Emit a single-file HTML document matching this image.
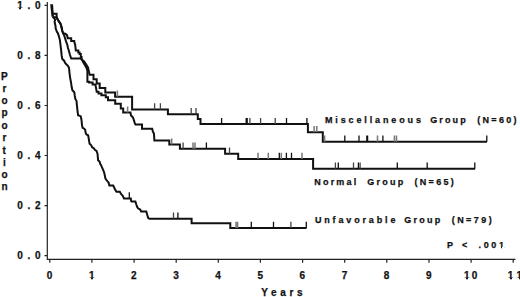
<!DOCTYPE html>
<html><head><meta charset="utf-8"><style>
html,body{margin:0;padding:0;background:#fff;}
body{width:520px;height:297px;position:relative;overflow:hidden;}
.o{position:relative;}
.o::before,.o::after{content:"";position:absolute;background:#fff;bottom:0.13em;height:0.21em;}
.o::before{left:0.02em;width:0.2em;}
.o::after{left:0.385em;width:0.2em;}
.t{position:absolute;font-family:"Liberation Sans",sans-serif;font-weight:bold;color:#111;white-space:pre;line-height:1;-webkit-text-stroke:0.25px #111;}
</style></head><body>
<svg width="520" height="297" viewBox="0 0 520 297" style="position:absolute;left:0;top:0">
<g stroke="#222" stroke-width="1.2" fill="none">
<path d="M47.3 2V259.4H515.5"/>
<path d="M44.5 5.3H47.3M44.5 55.4H47.3M44.5 105.5H47.3M44.5 155.5H47.3M44.5 205.6H47.3M44.5 255.7H47.3"/>
<path d="M49.8 259.4V262.8M91.9 259.4V262.8M134.1 259.4V262.8M176.2 259.4V262.8M218.3 259.4V262.8M260.4 259.4V262.8M302.6 259.4V262.8M344.7 259.4V262.8M386.8 259.4V262.8M429.0 259.4V262.8M471.1 259.4V262.8M513.2 259.4V262.8"/>
</g>
<g stroke="#111" stroke-width="2" fill="none" stroke-linejoin="miter">
<path d="M50.2 4.2H53L54 16.8H51.5Z" fill="#111" stroke="none"/>
<path d="M52.6 16.6L54.1 18.2L55.1 19.7L54.6 21.7L55.0 23.7L55.6 26.5L55.6 28.0L56.8 31.6L58.0 33.5L59.3 37.7L59.9 40.1L60.5 45.0L61.1 49.8L61.7 55.9L62.3 58.9L64.1 60.7L65.3 63.2L66.8 64.7L67.9 65.8L69.0 67.9L69.5 72.8L70.1 77.6L70.6 80.3L71.2 83.6L71.7 87.3L72.4 90.2L74.3 92.2L74.8 95.9L75.4 99.2L76.5 100.8L77.0 106.2L77.5 111.0L78.1 115.3L79.7 115.9L80.8 116.4L81.5 120.0L82.0 125.1L82.6 127.8L84.3 128.7L85.2 130.0L85.6 132.6L86.3 134.4L88.1 135.3L88.6 137.7L89.1 141.2L89.6 143.8L91.1 145.1L92.2 147.2L93.8 148.3L94.8 149.9L96.5 151.0L97.5 153.7L97.8 156.9L98.1 160.2L99.7 161.8L100.2 163.9L101.3 165.6L101.9 167.2L102.9 169.3L104.0 172.0L104.7 174.8L105.2 177.7L105.7 179.1L107.5 181.4L108.5 182.4L109.4 185.5H113.2L114.6 188.5L115.6 190.4L116.5 191.8H119.8L121.2 194.2L122.6 195.6L124.0 198.4H130.8L131.2 201.3L131.6 201.6H135.4L136.4 204.8L137.3 207.2L138.3 208.6L140.2 209.6L141.1 211.5H146.3L147.2 214.8L148.2 218.1L149.6 218.8H191.6V223.3H230.3V228.0H306.5"/>
<path d="M53.0 17.2H56.6L57.3 18.8L58.9 21.4L60.6 23.9L61.5 27.0L62.2 30.5L63.1 33.2L64.0 35.0L65.0 38.0L66.2 42.0L67.1 44.0L68.0 48.0L68.8 50.5L70.0 55.0L71.2 58.6H81.2L82.5 60.5L83.2 62.2L85.0 65.2L86.8 68.5L87.4 71.0V81.8H89.1V82.6H92.6V84.5H95.6V86.0L96.1 88.3L96.7 91.8H98.5V93.6H101.4V95.2H105.8V97.3H108.0V100.2H115.2V103.8H120.8V108.4H123.2V112.6H130.5L131.0 115.6L132.3 116.8L133.1 117.7L134.0 120.6L134.8 123.1L135.5 124.5H142.0V128.8H152.2L152.8 131.5L153.9 133.6L154.2 137.4L154.4 140.6H169.3V144.6H179.9V148.8H225.1V153.8H238.2V159.0H313.1V168.8H475.1"/>
<path d="M52.5 13.8H56.6V17.2L57.3 18.8L58.9 21.4L60.6 23.9L61.5 27.0L62.2 30.5L63.1 33.2L65.2 33.7L66.7 34.7L67.2 35.7L67.7 38.2H71.2V41.0H74.2V41.5L75.2 45.0L75.8 50.4H78.3V52.4H79.6V54.0H80.8V57.0H81.6V59.5L84.2 61.5L86.2 64.5L88.0 67.5L88.8 71.0L89.6 74.7H93.5V79.2H96.7V83.6H99.7V87.9H105.3V92.6H115.1V96.8H132.1V109.4H167.9V114.3H197.8V119.1H200.5V124.1H307.9V132.3H322.8V141.8H487.0"/>
</g>
<g fill="none">
<path stroke="#111" stroke-width="1.3" d="M129.3 198.4V192.20000000000002M177.9 218.8V212.60000000000002M251.3 228V221.8M273.5 228V221.8M306.3 228V221.8M206.4 148.8V142.60000000000002M279.3 159V152.8M286.4 159V152.8M291.5 159V152.8M338.3 168.8V162.60000000000002M358.4 168.8V162.60000000000002M397.3 168.8V162.60000000000002M427.2 168.8V162.60000000000002M474.8 168.8V162.60000000000002M221.6 124.1V117.89999999999999M246.2 124.1V117.89999999999999M247.2 124.1V117.89999999999999M286.5 124.1V117.89999999999999M306.9 124.1V117.89999999999999M344.8 141.8V135.60000000000002M359 141.8V135.60000000000002M366.8 141.8V135.60000000000002M367.6 141.8V135.60000000000002M382.9 141.8V135.60000000000002M486.8 141.8V135.60000000000002"/>
<path stroke="#444" stroke-width="1.3" d="M173.5 218.8V212.60000000000002M290.9 228V221.8M183.1 148.8V142.60000000000002M229.5 153.8V147.60000000000002M335.4 168.8V162.60000000000002M353.5 168.8V162.60000000000002M360.1 168.8V162.60000000000002M154.6 109.4V103.2M160.4 109.4V103.2M191.2 114.3V108.1M196 114.3V108.1M249.9 124.1V117.89999999999999M260.6 124.1V117.89999999999999M275.2 124.1V117.89999999999999"/>
<path stroke="#777" stroke-width="1.5" d="M236.0 228V221.8M237.6 228V221.8M127.6 112.6V106.39999999999999M171.7 144.6V138.4M193 148.8V142.60000000000002M195 148.8V142.60000000000002M258 159V152.8M268.3 159V152.8M281.3 159V152.8M302 159V152.8M117.4 96.8V90.6M314.1 132.3V126.10000000000001M316.8 132.3V126.10000000000001M324.6 141.8V135.60000000000002M377.5 141.8V135.60000000000002M394.4 141.8V135.60000000000002M396.5 141.8V135.60000000000002"/>
</g>
</svg>
<div class="t" style="left:324.9px;top:115.75px;font-size:9px;letter-spacing:2.88px;">Miscellaneous</div><div class="t" style="left:430.15px;top:115.75px;font-size:9px;letter-spacing:2.15px;">Group</div><div class="t" style="left:477.15px;top:115.75px;font-size:9px;letter-spacing:2.33px;">(N=60)</div><div class="t" style="left:314.3px;top:178.25px;font-size:9px;letter-spacing:2.17px;">Normal</div><div class="t" style="left:367.15px;top:178.25px;font-size:9px;letter-spacing:2.27px;">Group</div><div class="t" style="left:414.55px;top:178.25px;font-size:9px;letter-spacing:2.28px;">(N=65)</div><div class="t" style="left:314.9px;top:215.75px;font-size:9px;letter-spacing:2.85px;">Unfavorable</div><div class="t" style="left:404.35px;top:215.75px;font-size:9px;letter-spacing:2.21px;">Group</div><div class="t" style="left:451.75px;top:215.75px;font-size:9px;letter-spacing:2.43px;">(N=79)</div><div class="t" style="left:447.1px;top:240.85px;font-size:9px;letter-spacing:0px;">P</div><div class="t" style="left:461.95px;top:240.85px;font-size:9px;letter-spacing:0px;">&lt;</div><div class="t" style="left:478.5px;top:240.85px;font-size:9px;letter-spacing:2.65px;">.00<span class="o">1</span></div><div class="t" style="left:261.3px;top:287.8px;font-size:10px;letter-spacing:3.62px;">Years</div><div class="t" style="left:17.3px;top:0.9px;font-size:10px;letter-spacing:4.64px;"><span class="o">1</span>.0</div><div class="t" style="left:17.3px;top:50.98px;font-size:10px;letter-spacing:4.64px;">0.8</div><div class="t" style="left:17.3px;top:101.06px;font-size:10px;letter-spacing:4.64px;">0.6</div><div class="t" style="left:17.3px;top:151.14px;font-size:10px;letter-spacing:4.64px;">0.4</div><div class="t" style="left:17.3px;top:201.22px;font-size:10px;letter-spacing:4.64px;">0.2</div><div class="t" style="left:17.3px;top:251.3px;font-size:10px;letter-spacing:4.64px;">0.0</div><div class="t" style="left:46.8px;top:271.3px;font-size:10px;letter-spacing:2.06px;">0</div><div class="t" style="left:88.93px;top:271.3px;font-size:10px;letter-spacing:2.06px;"><span class="o">1</span></div><div class="t" style="left:131.06px;top:271.3px;font-size:10px;letter-spacing:2.06px;">2</div><div class="t" style="left:173.19px;top:271.3px;font-size:10px;letter-spacing:2.06px;">3</div><div class="t" style="left:215.32px;top:271.3px;font-size:10px;letter-spacing:2.06px;">4</div><div class="t" style="left:257.45px;top:271.3px;font-size:10px;letter-spacing:2.06px;">5</div><div class="t" style="left:299.58px;top:271.3px;font-size:10px;letter-spacing:2.06px;">6</div><div class="t" style="left:341.71px;top:271.3px;font-size:10px;letter-spacing:2.06px;">7</div><div class="t" style="left:383.84px;top:271.3px;font-size:10px;letter-spacing:2.06px;">8</div><div class="t" style="left:425.97px;top:271.3px;font-size:10px;letter-spacing:2.06px;">9</div><div class="t" style="left:464.1px;top:271.3px;font-size:10px;letter-spacing:2.06px;"><span class="o">1</span>0</div><div class="t" style="left:507.73px;top:271.3px;font-size:10px;letter-spacing:3.2px;"><span class="o">1</span><span class="o">1</span></div><div class="t" style="left:1.0px;top:71.5px;font-size:10px;letter-spacing:0px;">P</div><div class="t" style="left:2.5px;top:83.85px;font-size:10px;letter-spacing:0px;">r</div><div class="t" style="left:1.5px;top:96.2px;font-size:10px;letter-spacing:0px;">o</div><div class="t" style="left:1.5px;top:108.05px;font-size:10px;letter-spacing:0px;">p</div><div class="t" style="left:1.5px;top:120.9px;font-size:10px;letter-spacing:0px;">o</div><div class="t" style="left:2.5px;top:133.25px;font-size:10px;letter-spacing:0px;">r</div><div class="t" style="left:2.5px;top:145.6px;font-size:10px;letter-spacing:0px;">t</div><div class="t" style="left:3.0px;top:157.95px;font-size:10px;letter-spacing:0px;">i</div><div class="t" style="left:1.5px;top:170.3px;font-size:10px;letter-spacing:0px;">o</div><div class="t" style="left:1.5px;top:181.65px;font-size:10px;letter-spacing:0px;">n</div>
</body></html>
